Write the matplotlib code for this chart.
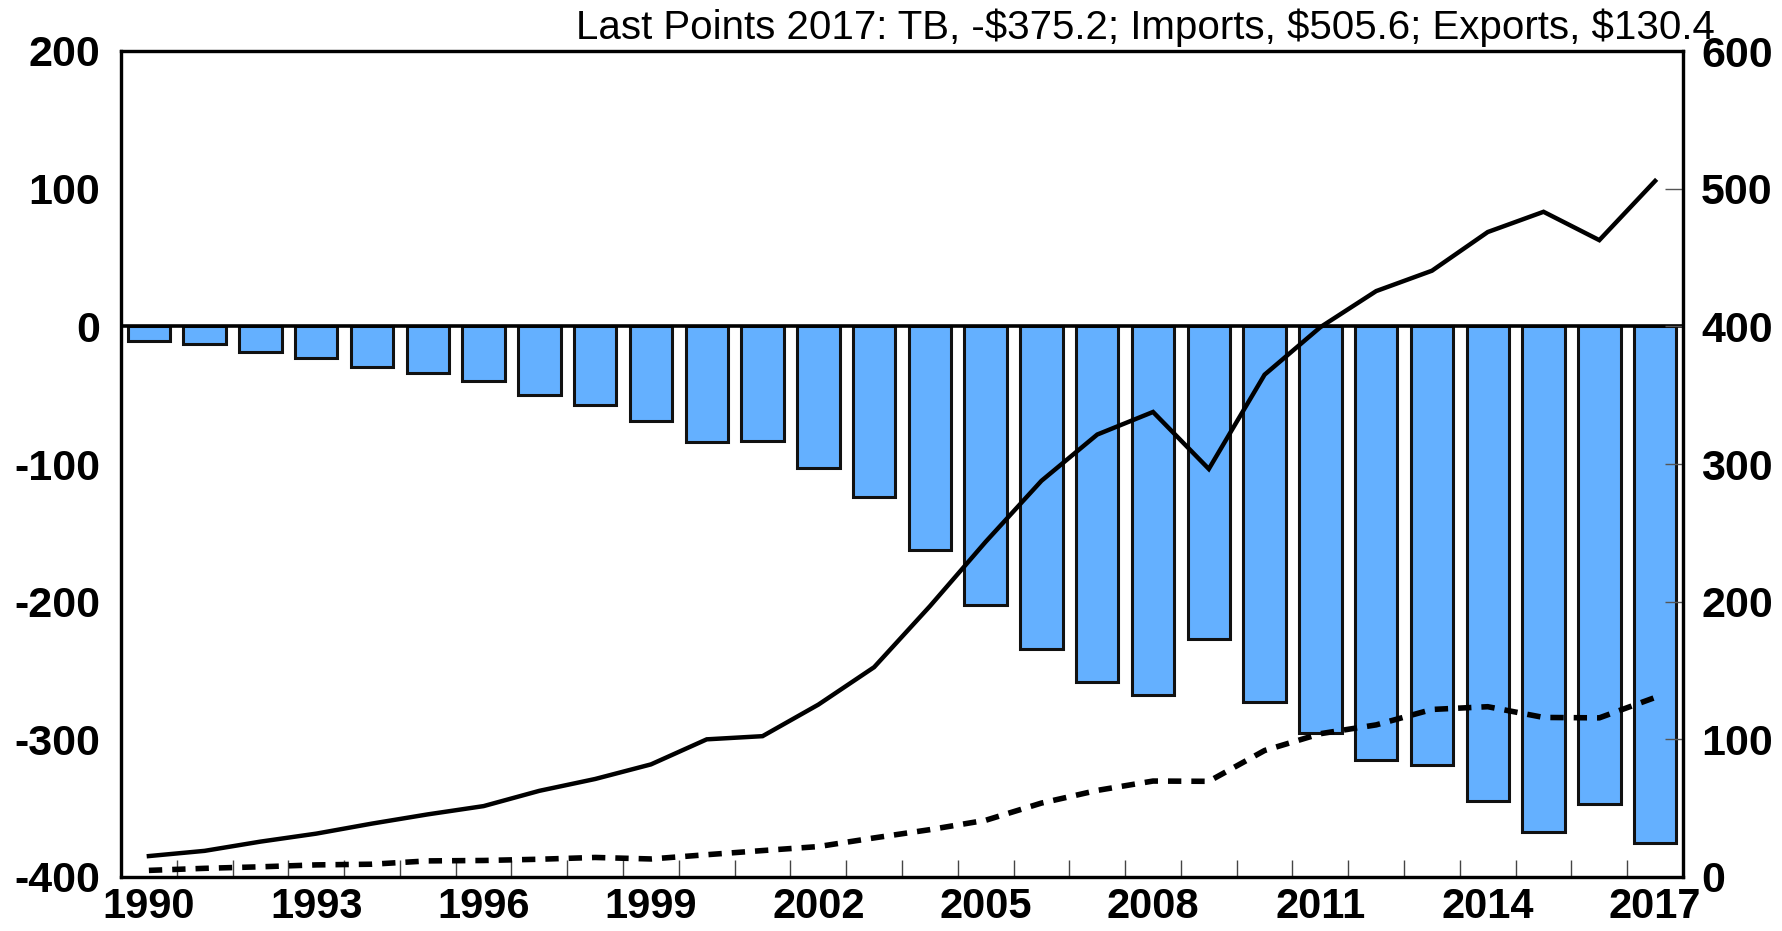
import matplotlib
matplotlib.use("Agg")
import matplotlib.pyplot as plt
import numpy as np

years = list(range(1990, 2018))
trade_balance = [-10.4, -12.7, -18.3, -22.8, -29.5, -33.8, -39.5, -49.7, -56.9, -68.7,
                 -83.8, -83.1, -103.1, -124.1, -162.3, -202.3, -234.1, -258.5, -268.0, -226.9,
                 -273.1, -295.3, -315.1, -318.7, -344.8, -367.3, -347.0, -375.2]
imports = [15.2, 19.0, 25.7, 31.5, 38.8, 45.5, 51.5, 62.6, 71.2, 81.8,
           100.0, 102.3, 125.2, 152.4, 196.7, 243.5, 287.8, 321.4, 337.8, 296.4,
           364.9, 399.4, 425.6, 440.4, 468.5, 483.2, 462.6, 505.6]
exports = [4.8, 6.3, 7.4, 8.8, 9.3, 11.7, 12.0, 12.9, 14.2, 13.1,
           16.2, 19.2, 22.1, 28.4, 34.4, 41.2, 53.7, 62.9, 69.7, 69.5,
           91.9, 104.1, 110.5, 121.7, 123.7, 115.9, 115.6, 130.4]
xtick_labels = ["1990", "1993", "1996", "1999", "2002", "2005", "2008", "2011", "2014", "2017"]
left_ticks = [-400, -300, -200, -100, 0, 100, 200]
right_ticks = [0, 100, 200, 300, 400, 500, 600]
title = "Last Points 2017: TB, -$375.2; Imports, $505.6; Exports, $130.4"

plt.rcParams['font.family'] = ['Liberation Sans', 'DejaVu Sans']

W, H = 1783, 931
fig = plt.figure(figsize=(W / 100, H / 100), dpi=100)
L, R, T, B = 121, 1683, 51, 877
ax = fig.add_axes([L / W, 1 - B / H, (R - L) / W, (B - T) / H])
ax2 = ax.twinx()

ax.bar(years, trade_balance, width=0.76, color="#64B0FF", edgecolor="#111111",
       linewidth=2.2, zorder=2)
ax.axhline(0, color="black", linewidth=2.6, zorder=3)
ax.set_xlim(1989.5, 2017.5)
ax.set_ylim(-400, 200)
ax.set_yticks(left_ticks)
ax.set_yticklabels([str(v) for v in left_ticks], fontsize=31, fontweight='bold')
ax.tick_params(axis='y', which='both', length=0, pad=15)

ax.set_xticks([int(s) for s in xtick_labels])
ax.set_xticklabels(xtick_labels, fontsize=30, fontweight='bold')
ax.tick_params(axis='x', which='major', length=0, pad=7)
ax.set_xticks(np.arange(1990.5, 2017.5, 1.0), minor=True)
ax.tick_params(axis='x', which='minor', direction='in', length=12, width=1.0,
               color='#444444')

ax2.plot(years, imports, color="black", linewidth=3.2, zorder=4,
         solid_joinstyle='miter')
ax2.plot(years, exports, color="black", linewidth=4.0, linestyle=(0, (2.4, 1.8)),
         dash_capstyle='butt', zorder=4)
ax2.set_ylim(0, 600)
ax2.set_yticks(right_ticks)
ax2.set_yticklabels([str(v) for v in right_ticks], fontsize=31, fontweight='bold')
ax2.tick_params(axis='y', direction='in', length=13, width=1.0, color='#555555',
                pad=13)

for a in (ax, ax2):
    for s in a.spines.values():
        s.set_linewidth(2.3)
        s.set_color('black')

fig.text(1715 / W, 1 - 39 / H, title, ha='right', va='baseline', fontsize=29)

fig.savefig("out.png", dpi=100)
